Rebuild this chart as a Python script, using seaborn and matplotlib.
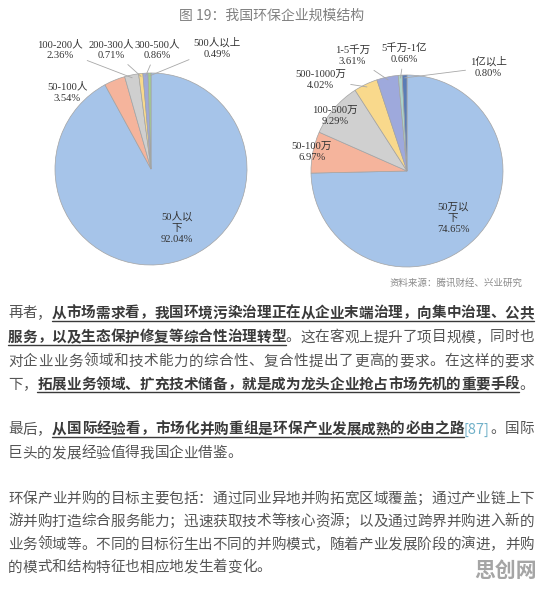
import re
import matplotlib
matplotlib.use("Agg")
import matplotlib.pyplot as plt
from matplotlib.lines import Line2D
import seaborn as sns
import numpy as np

sns.set_theme(style="white")
plt.rcParams['font.family'] = ['Noto Sans CJK SC', 'DejaVu Sans']
SERIF = ['Liberation Serif', 'Noto Sans CJK SC']

# ---- data -------------------------------------------------------------
staff_names = ["50人以\n下", "50-100人", "100-200人", "200-300人", "300-500人", "500人以上"]
staff_share = [92.04, 3.54, 2.36, 0.71, 0.86, 0.49]
staff_colors = ["#a6c4e9", "#f5b49c", "#cfcfcf", "#f8d98c", "#9ea9d8", "#a3d18f"]

rev_names = ["50万以\n下", "50-100万", "100-500万", "500-1000万", "1-5千万", "5千万-1亿", "1亿以上"]
rev_share = [74.65, 6.97, 9.29, 4.02, 3.61, 0.66, 0.80]
rev_colors = ["#a6c4e9", "#f5b49c", "#d0d0d0", "#f9d98c", "#9ea9dc", "#acd3c8", "#5a7cb6"]

title = "图 19：我国环保企业规模结构"
source = "资料来源：腾讯财经、兴业研究"

# label positions in pie units (radius = 1) and whether a leader line is drawn
staff_pos = [(0.27, -0.61), (-0.87, 0.80), (-0.95, 1.24), (-0.41, 1.24), (0.06, 1.24), (0.69, 1.26)]
staff_lead = [False, False, True, True, True, True]
rev_pos = [(0.48, -0.49), (-0.99, 0.20), (-0.75, 0.57), (-0.90, 0.95), (-0.57, 1.20), (-0.03, 1.22), (0.85, 1.08)]
rev_lead = [False, False, False, True, True, True, True]

# body text: (text, style) n = normal, b = bold underlined, r = reference
para_lines = [
    [("再者，", "n"), ("从市场需求看，我国环境污染治理正在从企业末端治理，向集中治理、公共", "b")],
    [("服务，以及生态保护修复等综合性治理转型", "b"), ("。这在客观上提升了项目规模，同时也", "n")],
    [("对企业业务领域和技术能力的综合性、复合性提出了更高的要求。在这样的要求", "n")],
    [("下，", "n"), ("拓展业务领域、扩充技术储备，就是成为龙头企业抢占市场先机的重要手段", "b"), ("。", "n")],
    [("最后，", "n"), ("从国际经验看，市场化并购重组是环保产业发展成熟的必由之路", "b"), ("[87]", "r"), ("。国际", "n")],
    [("巨头的发展经验值得我国企业借鉴。", "n")],
    [("环保产业并购的目标主要包括：通过同业异地并购拓宽区域覆盖；通过产业链上下", "n")],
    [("游并购打造综合服务能力；迅速获取技术等核心资源；以及通过跨界并购进入新的", "n")],
    [("业务领域等。不同的目标衍生出不同的并购模式，随着产业发展阶段的演进，并购", "n")],
    [("的模式和结构特征也相应地发生着变化。", "n")],
]
line_centers = [312, 336, 360, 383, 428, 452, 497, 520, 543, 566]
line_justify = [True, True, True, True, True, False, True, True, True, False]

W, H = 543, 590
fig = plt.figure(figsize=(W / 100, H / 100), dpi=100, facecolor="white")


def draw_pie(rect, shares, names, colors, positions, leads):
    ax = fig.add_axes(rect)
    wedges, _ = ax.pie(shares, colors=colors, startangle=90, counterclock=False,
                       wedgeprops=dict(edgecolor="#a3a3a3", linewidth=0.5))
    ax.set_xlim(-1, 1)
    ax.set_ylim(-1, 1)
    ax.set_aspect("equal")
    for w, name, share, pos, lead in zip(wedges, names, shares, positions, leads):
        mid = np.deg2rad((w.theta1 + w.theta2) / 2)
        edge = (0.97 * np.cos(mid), 0.97 * np.sin(mid))
        txt = f"{name}\n{share:.2f}%"
        kw = dict(ha="center", va="center", fontsize=7.6, color="#333333",
                  family=SERIF, linespacing=1.3)
        if lead:
            ax.annotate(txt, xy=edge, xytext=pos, annotation_clip=False,
                        arrowprops=dict(arrowstyle="-", color="#a8a8a8", lw=0.6,
                                        shrinkA=1, shrinkB=0), **kw)
        else:
            ax.text(pos[0], pos[1], txt, **kw)
    return ax


draw_pie([55 / W, 1 - 265 / H, 192 / W, 192 / H], staff_share, staff_names,
         staff_colors, staff_pos, staff_lead)
draw_pie([311 / W, 1 - 267 / H, 192 / W, 192 / H], rev_share, rev_names,
         rev_colors, rev_pos, rev_lead)

fig.text(272 / W, 1 - 16 / H, title, ha="center", va="center", fontsize=10,
         color="#808080")
fig.text(522 / W, 1 - 283 / H, source, ha="right", va="center", fontsize=6.8,
         color="#8a8a8a")

# body paragraphs, placed character by character and justified
renderer = fig.canvas.get_renderer()
LEFT, RIGHT = 8.0, 534.0
for segs, yc, just in zip(para_lines, line_centers, line_justify):
    base = yc + 5.5
    items = []
    for text, style in segs:
        for u in re.findall(r'[\x21-\x7e]+|.', text):
            color, weight = "#555555", "normal"
            if style == "b":
                color, weight = "#3a3a3a", "bold"
            elif style == "r":
                color = "#6fb0c8"
            t = fig.text(0, 1 - base / H, u, fontsize=10.5, color=color,
                         weight=weight, va="baseline", ha="left")
            items.append((t, t.get_window_extent(renderer).width, style))
    natural = sum(w for _, w, _ in items)
    gap = (RIGHT - LEFT - natural) / (len(items) - 1) if just else 0.0
    x = LEFT
    spans = []
    for t, w, style in items:
        t.set_x(x / W)
        spans.append((x, x + w, style))
        x += w + gap
    # underline each bold run
    run = None
    for x0, x1, style in spans + [(0, 0, "end")]:
        if style == "b":
            run = (run[0] if run else x0, x1)
        elif run:
            yu = 1 - (base + 3) / H
            fig.add_artist(Line2D([run[0] / W, run[1] / W], [yu, yu],
                                  transform=fig.transFigure, color="#3a3a3a", lw=1.0))
            run = None

fig.text(537 / W, 1 - 570 / H, "思创网", ha="right", va="center", fontsize=15,
         weight="bold", color="#a5a5a5")

fig.savefig("out.png", dpi=100, facecolor="white")
